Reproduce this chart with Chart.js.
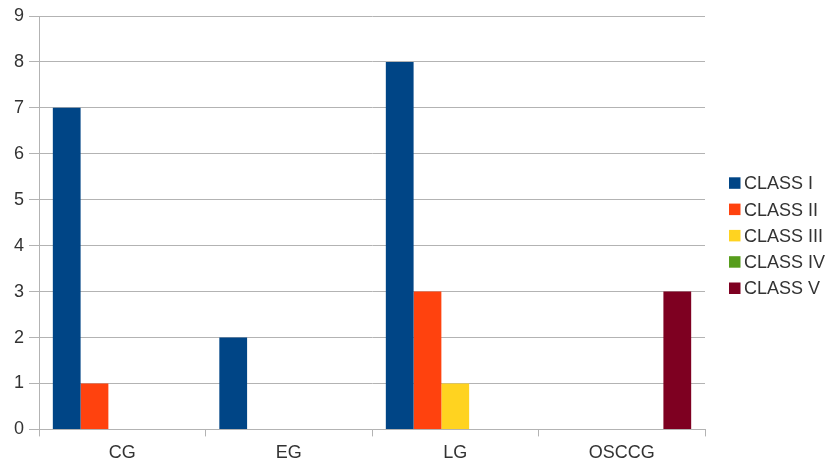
<!DOCTYPE html>
<html>
<head>
<meta charset="utf-8">
<script src="https://cdn.jsdelivr.net/npm/chart.js@4/dist/chart.umd.min.js"></script>
<style>
  html, body { margin: 0; padding: 0; background: #ffffff; }
  #wrap { width: 832px; height: 466px; position: relative; }
</style>
</head>
<body>
<div id="wrap"><canvas id="c"></canvas></div>
<script>
// Group labels and the count of cases per class in each group
const categories = ['CG', 'EG', 'LG', 'OSCCG'];
const classI   = [7, 2, 8, 0];
const classII  = [1, 0, 3, 0];
const classIII = [0, 0, 1, 0];
const classIV  = [0, 0, 0, 0];
const classV   = [0, 0, 0, 3];
const seriesNames = ['CLASS I', 'CLASS II', 'CLASS III', 'CLASS IV', 'CLASS V'];
const seriesColors = ['#004586', '#ff420e', '#ffd320', '#579d1c', '#7e0021'];
const seriesValues = [classI, classII, classIII, classIV, classV];

const gridGray = '#b3b3b3';
const textColor = '#333333';
const fontFamily = 'Liberation Sans';
const fontSize = 18;

const datasets = seriesNames.map((name, i) => ({
  label: name,
  data: seriesValues[i],
  backgroundColor: seriesColors[i],
  borderWidth: 0,
  categoryPercentage: 0.834,
  barPercentage: 1.0
}));

// Legend column to the right of the plot: square swatch + series name
const sideLegend = {
  id: 'sideLegend',
  afterDraw(chart) {
    const ctx = chart.ctx;
    const area = chart.chartArea;
    const swatchX = area.right + 24;
    const textX = swatchX + 15;
    const rowGap = 26.3;
    const items = chart.data.datasets;
    const firstY = 182.8;
    ctx.save();
    ctx.font = fontSize + 'px "' + fontFamily + '"';
    ctx.textAlign = 'left';
    ctx.textBaseline = 'alphabetic';
    items.forEach((ds, i) => {
      const cy = firstY + i * rowGap;
      ctx.fillStyle = ds.backgroundColor;
      ctx.fillRect(swatchX, cy - 5.5, 11.5, 11.5);
      ctx.fillStyle = textColor;
      ctx.fillText(ds.label, textX, cy + 0.358 * fontSize);
    });
    ctx.restore();
  }
};

new Chart(document.getElementById('c'), {
  type: 'bar',
  data: { labels: categories, datasets },
  plugins: [sideLegend],
  options: {
    responsive: true,
    maintainAspectRatio: false,
    animation: false,
    layout: { padding: { top: 16, right: 127, bottom: -4, left: 9 } },
    plugins: {
      tooltip: { enabled: false },
      legend: { display: false }
    },
    scales: {
      x: {
        offset: true,
        grid: {
          offset: true,
          drawOnChartArea: true,
          color: (ctx) => (ctx.index === categories.length ? gridGray : 'rgba(0,0,0,0)'),
          tickColor: gridGray,
          tickLength: 7
        },
        border: { color: gridGray },
        ticks: {
          color: textColor,
          padding: 6,
          font: { family: fontFamily, size: fontSize }
        }
      },
      y: {
        min: 0,
        max: 9,
        ticks: {
          stepSize: 1,
          color: textColor,
          padding: 5,
          font: { family: fontFamily, size: fontSize }
        },
        grid: { color: gridGray, tickLength: 10 },
        border: { color: gridGray }
      }
    }
  }
});
</script>
</body>
</html>
